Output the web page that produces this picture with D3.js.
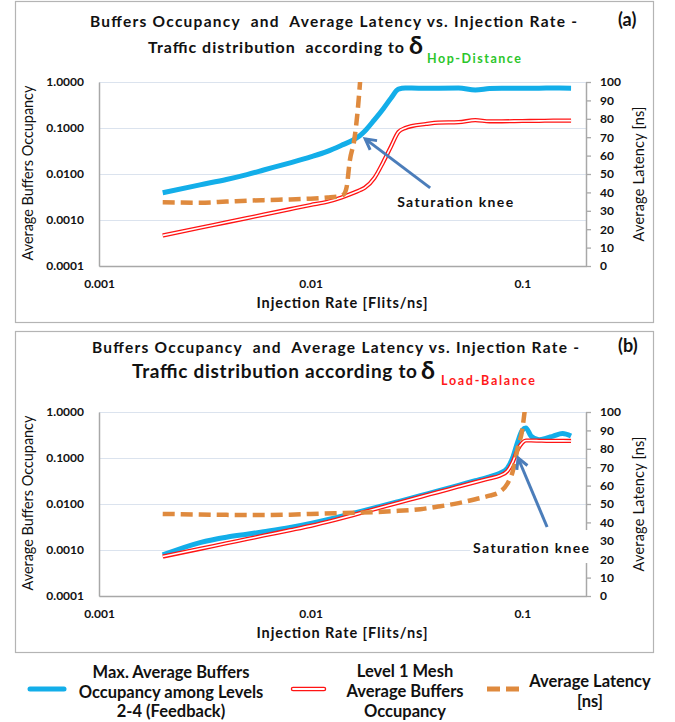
<!DOCTYPE html>
<html>
<head>
<meta charset="utf-8">
<script src="https://cdn.jsdelivr.net/npm/d3@7"></script>
<style>
  html, body { margin: 0; padding: 0; background: #fff; }
  svg { display: block; font-family: Lato, "Open Sans", "Liberation Sans", sans-serif; }
  text { white-space: pre; }
</style>
</head>
<body>
<svg id="chart" width="675" height="722"></svg>
<script>
// ---- Panel (a): traffic distribution according to hop distance ----
const rateA = [0.002, 0.003, 0.004, 0.005, 0.006, 0.008, 0.010, 0.012, 0.014, 0.016, 0.017, 0.018, 0.020, 0.022, 0.024, 0.026, 0.028, 0.030, 0.035, 0.040, 0.050, 0.060, 0.070, 0.080, 0.100, 0.120, 0.140, 0.170];
const maxOccA = [0.0039, 0.0058, 0.0076, 0.0097, 0.0122, 0.0175, 0.0235, 0.0310, 0.0420, 0.0560, 0.0670, 0.0850, 0.150, 0.260, 0.450, 0.700, 0.740, 0.740, 0.730, 0.735, 0.740, 0.670, 0.720, 0.735, 0.735, 0.735, 0.740, 0.735];
const meshOccA = [0.00046, 0.00068, 0.00089, 0.00110, 0.00131, 0.00172, 0.00212, 0.0025, 0.0031, 0.0039, 0.0044, 0.0050, 0.0082, 0.018, 0.040, 0.082, 0.100, 0.110, 0.122, 0.131, 0.134, 0.148, 0.140, 0.140, 0.142, 0.143, 0.145, 0.145];
const latRateA = [0.002, 0.003, 0.004, 0.005, 0.006, 0.008, 0.010, 0.012, 0.0135, 0.0143, 0.0148, 0.0153, 0.0161, 0.0167, 0.0172];
const latencyA = [34.6, 34.4, 35.0, 35.5, 35.8, 36.2, 36.6, 37.2, 37.8, 38.8, 43, 57, 69, 85, 103];

// ---- Panel (b): traffic distribution according to load balance ----
const rateB = [0.002, 0.003, 0.004, 0.005, 0.006, 0.008, 0.010, 0.013, 0.016, 0.020, 0.026, 0.033, 0.040, 0.050, 0.060, 0.070, 0.078, 0.085, 0.090, 0.095, 0.100, 0.104, 0.110, 0.120, 0.130, 0.140, 0.155, 0.170];
const maxOccB = [0.00078, 0.00145, 0.0019, 0.0022, 0.0025, 0.0031, 0.0038, 0.0050, 0.0063, 0.0082, 0.0113, 0.0152, 0.0192, 0.0255, 0.032, 0.039, 0.046, 0.060, 0.10, 0.22, 0.40, 0.45, 0.30, 0.25, 0.27, 0.30, 0.34, 0.30];
const meshOccB = [0.00072, 0.00106, 0.0014, 0.00173, 0.00206, 0.0027, 0.00335, 0.0045, 0.0058, 0.0077, 0.0106, 0.0143, 0.0181, 0.0239, 0.0299, 0.036, 0.041, 0.052, 0.080, 0.150, 0.215, 0.240, 0.240, 0.238, 0.236, 0.236, 0.236, 0.235];
const latRateB = [0.002, 0.003, 0.004, 0.005, 0.006, 0.008, 0.010, 0.013, 0.016, 0.020, 0.026, 0.033, 0.040, 0.050, 0.060, 0.070, 0.078, 0.085, 0.090, 0.095, 0.100, 0.103];
const latencyB = [44.6, 44.3, 44.1, 44.0, 44.0, 44.2, 44.6, 45.0, 45.2, 45.6, 46.3, 47.2, 48.6, 50.5, 52.6, 54.5, 56.5, 61, 67.5, 80, 90.5, 102];

// ---- Axes ----
const xTickValues = [0.001, 0.01, 0.1];
const xTickLabels = ["0.001", "0.01", "0.1"];
const occTickValues = [0.0001, 0.001, 0.01, 0.1, 1];
const latTickValues = [0, 10, 20, 30, 40, 50, 60, 70, 80, 90, 100];

// ---- Text ----
const titleLine1 = "Buffers Occupancy  and  Average Latency vs. Injection Rate -";
const titleLine2A = "Traffic distribution  according to";
const titleLine2B = "Traffic distribution according to";
const deltaSymbol = "δ";
const subA = "Hop-Distance";
const subB = "Load-Balance";
const xTitle = "Injection Rate [Flits/ns]";
const yLeftTitle = "Average Buffers Occupancy";
const yRightTitle = "Average Latency [ns]";
const kneeLabel = "Saturation knee";
const legendLabels = [
  ["Max. Average Buffers", "Occupancy among Levels", "2-4 (Feedback)"],
  ["Level 1 Mesh", "Average Buffers", "Occupancy"],
  ["Average Latency", "[ns]"]
];

const COLORS = { blue: "#13aee9", red: "#ff1414", orange: "#df8a3e", arrow: "#4b7dba", grid: "#dbe3ee", axis: "#a8a8a8", frame: "#b4b4b4", text: "#111" };

const svg = d3.select("#chart");
svg.append("rect").attr("width", 675).attr("height", 722).attr("fill", "#fff");

function drawPanel(cfg) {
  const top = cfg.y0;
  const g = svg.append("g");

  // frame
  g.append("rect").attr("x", 15.5).attr("y", top + 1.5).attr("width", 638).attr("height", cfg.frameH)
    .attr("fill", "none").attr("stroke", COLORS.frame).attr("stroke-width", 1.2);

  const plot = { l: 99, r: 586, t: top + 82, b: top + 266 };
  const x = d3.scaleLog().domain([0.001, 0.2]).range([plot.l, plot.r]);
  const y = d3.scaleLog().domain([0.0001, 1]).range([plot.b, plot.t]);
  const yR = d3.scaleLinear().domain([0, 100]).range([plot.b, plot.t]);

  // gridlines
  const grid = g.append("g").attr("transform", `translate(${plot.l},0)`)
    .call(d3.axisLeft(y).tickValues(occTickValues).tickSize(-(plot.r - plot.l)).tickFormat(""));
  grid.select(".domain").remove();
  grid.selectAll("line").attr("stroke", COLORS.grid).attr("stroke-width", 1.2);

  // left axis
  const ax = g.append("g").attr("transform", `translate(${plot.l},0)`)
    .call(d3.axisLeft(y).tickValues(occTickValues).tickFormat(d3.format(".4f")).tickSize(0).tickPadding(15));
  ax.select(".domain").attr("stroke", COLORS.axis).attr("stroke-width", 1.5);
  ax.selectAll("text").attr("font-size", 12).attr("font-weight", "bold").attr("fill", COLORS.text).attr("font-family", "Lato");

  // bottom axis
  const bx = g.append("g").attr("transform", `translate(0,${plot.b})`)
    .call(d3.axisBottom(x).tickValues(xTickValues).tickFormat((d, i) => xTickLabels[i]).tickSize(0).tickPadding(13));
  bx.select(".domain").attr("stroke", COLORS.axis).attr("stroke-width", 1.5);
  bx.selectAll("text").attr("font-size", 12).attr("font-weight", "bold").attr("fill", COLORS.text).attr("font-family", "Lato");

  // right axis
  const rx = g.append("g").attr("transform", `translate(${plot.r},0)`)
    .call(d3.axisRight(yR).tickValues(latTickValues).tickSizeInner(5).tickSizeOuter(0).tickPadding(9));
  rx.select(".domain").attr("stroke", COLORS.axis).attr("stroke-width", 1.5);
  rx.selectAll("line").attr("stroke", COLORS.axis).attr("stroke-width", 1.3);
  rx.selectAll("text").attr("font-size", 12).attr("font-weight", "bold").attr("fill", COLORS.text).attr("font-family", "Lato");

  // clip for series
  const clipId = "clip-" + cfg.id;
  svg.append("clipPath").attr("id", clipId).append("rect")
    .attr("x", plot.l).attr("y", plot.t).attr("width", plot.r - plot.l).attr("height", plot.b - plot.t);
  const series = g.append("g").attr("clip-path", `url(#${clipId})`);

  const occLine = d3.line().x(d => x(d[0])).y(d => y(d[1])).curve(d3.curveMonotoneX);
  const latLine = d3.line().x(d => x(d[0])).y(d => yR(d[1])).curve(d3.curveMonotoneX);

  const maxPts = cfg.rate.map((r, i) => [r, cfg.maxOcc[i]]);
  const meshPts = cfg.rate.map((r, i) => [r, cfg.meshOcc[i]]);
  const latPts = cfg.latRate.map((r, i) => [r, cfg.latency[i]]);

  series.append("path").attr("d", occLine(maxPts)).attr("fill", "none")
    .attr("stroke", COLORS.blue).attr("stroke-width", 5).attr("stroke-linejoin", "round");
  series.append("path").attr("d", occLine(meshPts)).attr("fill", "none")
    .attr("stroke", COLORS.red).attr("stroke-width", 4.2).attr("stroke-linejoin", "round");
  series.append("path").attr("d", occLine(meshPts)).attr("fill", "none")
    .attr("stroke", "#fff").attr("stroke-width", 1.6).attr("stroke-linejoin", "round");
  series.append("path").attr("d", latLine(latPts)).attr("fill", "none")
    .attr("stroke", COLORS.orange).attr("stroke-width", 4.5).attr("stroke-dasharray", "12,6");

  // axis titles
  g.append("text").attr("transform", `translate(33,${(plot.t + plot.b) / 2 - 1}) rotate(-90)`)
    .attr("text-anchor", "middle").attr("font-size", 14.5).attr("fill", COLORS.text)
    .attr("textLength", 175).text(yLeftTitle);
  g.append("text").attr("transform", `translate(644,${(plot.t + plot.b) / 2}) rotate(-90)`)
    .attr("text-anchor", "middle").attr("font-size", 14.5).attr("fill", COLORS.text)
    .attr("textLength", 135).text(yRightTitle);
  g.append("text").attr("x", 342).attr("y", plot.b + 42).attr("text-anchor", "middle")
    .attr("font-size", 14.5).attr("font-weight", "bold").attr("fill", COLORS.text)
    .attr("textLength", 171).text(xTitle);

  // saturation knee annotation
  const a = cfg.knee;
  const tx = x(a.tail[0]), ty = y(a.tail[1]);
  const hx = x(a.tip[0]), hy = y(a.tip[1]);
  if (a.boxed) {
    g.append("rect").attr("x", tx + a.dx - 61).attr("y", ty + a.dy - 23)
      .attr("width", 123).attr("height", 33).attr("fill", "#fff");
  }
  const ang = Math.atan2(hy - ty, hx - tx);
  const headLen = 12, spread = 0.5;
  g.append("line").attr("x1", tx).attr("y1", ty).attr("x2", hx).attr("y2", hy)
    .attr("stroke", COLORS.arrow).attr("stroke-width", 3);
  g.append("path")
    .attr("d", `M${hx - headLen * Math.cos(ang - spread)},${hy - headLen * Math.sin(ang - spread)} L${hx},${hy} L${hx - headLen * Math.cos(ang + spread)},${hy - headLen * Math.sin(ang + spread)}`)
    .attr("fill", "none").attr("stroke", COLORS.arrow).attr("stroke-width", 3).attr("stroke-linejoin", "miter");
  g.append("text").attr("x", tx + a.dx).attr("y", ty + a.dy).attr("text-anchor", "middle")
    .attr("font-size", 14).attr("font-weight", "bold").attr("fill", COLORS.text)
    .attr("textLength", 116).text(kneeLabel);

  // titles
  g.append("text").attr("x", cfg.t1x).attr("y", top + cfg.t1y).attr("font-size", 15.5).attr("font-weight", "bold")
    .attr("fill", COLORS.text).attr("textLength", 487).text(titleLine1);
  g.append("text").attr("x", cfg.t2x).attr("y", top + cfg.t2y).attr("font-size", cfg.t2size).attr("font-weight", "bold")
    .attr("fill", COLORS.text).attr("textLength", cfg.t2len).text(cfg.t2text);
  g.append("text").attr("x", cfg.dx).attr("y", top + cfg.t2y + 1).attr("font-size", 25).attr("font-weight", "bold")
    .attr("fill", COLORS.text).text(deltaSymbol);
  g.append("text").attr("x", cfg.sx).attr("y", top + cfg.sy).attr("font-size", 12.5).attr("font-weight", "bold")
    .attr("fill", cfg.subColor).attr("textLength", 94).text(cfg.sub);
  g.append("text").attr("x", 618).attr("y", top + cfg.t1y - 1).attr("font-size", 18).attr("font-weight", "bold")
    .attr("fill", COLORS.text).text(cfg.tag);
}

drawPanel({
  id: "a", y0: 0, frameH: 321, rate: rateA, maxOcc: maxOccA, meshOcc: meshOccA, latRate: latRateA, latency: latencyA,
  knee: { tail: [0.0367, 0.0050], tip: [0.0181, 0.058], dx: 25, dy: 19, boxed: false },
  t1x: 90, t1y: 27, t2x: 148, t2y: 53, t2size: 16, t2len: 256, t2text: titleLine2A,
  dx: 409, sx: 427, sy: 63, sub: subA, subColor: "#2bc62b", tag: "(a)"
});
drawPanel({
  id: "b", y0: 330, frameH: 321, rate: rateB, maxOcc: maxOccB, meshOcc: meshOccB, latRate: latRateB, latency: latencyB,
  knee: { tail: [0.131, 0.00316], tip: [0.0955, 0.1], dx: -16, dy: 26, boxed: true },
  t1x: 92, t1y: 23, t2x: 132, t2y: 48, t2size: 19, t2len: 285, t2text: titleLine2B,
  dx: 421, sx: 441, sy: 55, sub: subB, subColor: "#ff1a1a", tag: "(b)"
});

// ---- Legend ----
const leg = svg.append("g");
const legY = 689;
leg.append("line").attr("x1", 30).attr("x2", 64).attr("y1", legY).attr("y2", legY)
  .attr("stroke", COLORS.blue).attr("stroke-width", 5).attr("stroke-linecap", "round");
leg.append("line").attr("x1", 293).attr("x2", 324).attr("y1", legY).attr("y2", legY)
  .attr("stroke", COLORS.red).attr("stroke-width", 4.5).attr("stroke-linecap", "round");
leg.append("line").attr("x1", 293).attr("x2", 324).attr("y1", legY).attr("y2", legY)
  .attr("stroke", "#fff").attr("stroke-width", 1.8).attr("stroke-linecap", "round");
leg.append("line").attr("x1", 487).attr("x2", 519).attr("y1", legY).attr("y2", legY)
  .attr("stroke", COLORS.orange).attr("stroke-width", 5).attr("stroke-dasharray", "13,6");

const legendPos = [
  { cx: 171, ys: [678, 698, 717] },
  { cx: 405, ys: [677, 697, 717] },
  { cx: 590, ys: [687, 707] }
];
legendLabels.forEach((lines, k) => {
  lines.forEach((s, j) => {
    leg.append("text").attr("x", legendPos[k].cx).attr("y", legendPos[k].ys[j]).attr("text-anchor", "middle")
      .attr("font-size", 16.5).attr("font-weight", "bold").attr("fill", COLORS.text).text(s);
  });
});
</script>
</body>
</html>
